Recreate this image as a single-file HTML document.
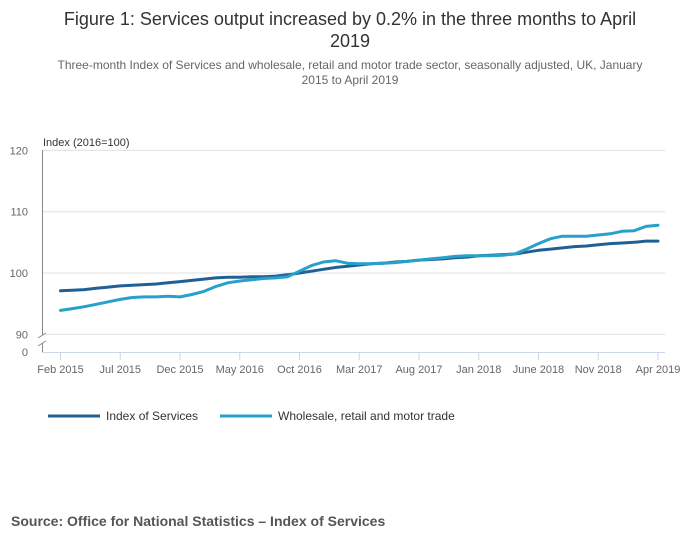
<!DOCTYPE html>
<html><head><meta charset="utf-8"><style>
body{margin:0;background:#fff;font-family:"Liberation Sans",sans-serif;}
#wrap{position:relative;width:700px;height:549px;overflow:hidden;}
.t{position:absolute;left:0;width:700px;text-align:center;}
</style></head><body>
<div id="wrap">
<div class="t" style="top:8px;font-size:18px;color:#333;line-height:22px;">Figure 1: Services output increased by 0.2% in the three months to April<br>2019</div>
<div class="t" style="top:58px;font-size:12px;color:#666;line-height:15px;">Three-month Index of Services and wholesale, retail and motor trade sector, seasonally adjusted, UK, January<br>2015 to April 2019</div>
<svg id="chart" width="700" height="549" style="position:absolute;left:0;top:0"></svg>
<div style="position:absolute;left:11px;top:513px;font-size:14px;font-weight:bold;color:#555;">Source: Office for National Statistics – Index of Services</div>
</div>
<script>
const months = ["Feb 2015","Jul 2015","Dec 2015","May 2016","Oct 2016","Mar 2017","Aug 2017","Jan 2018","June 2018","Nov 2018","Apr 2019"];
const services = [97.1,97.2,97.3,97.5,97.7,97.9,98.0,98.1,98.2,98.4,98.6,98.8,99.0,99.2,99.3,99.3,99.4,99.4,99.5,99.7,100.0,100.3,100.6,100.9,101.1,101.3,101.5,101.6,101.8,101.9,102.1,102.2,102.3,102.5,102.6,102.8,102.9,103.0,103.1,103.4,103.7,103.9,104.1,104.3,104.4,104.6,104.8,104.9,105.0,105.2,105.2];
const wholesale = [93.9,94.2,94.5,94.9,95.3,95.7,96.0,96.1,96.1,96.2,96.1,96.5,97.0,97.8,98.4,98.7,98.9,99.1,99.2,99.4,100.3,101.2,101.8,102.0,101.6,101.5,101.5,101.6,101.7,101.9,102.1,102.3,102.5,102.7,102.8,102.8,102.8,102.9,103.1,103.9,104.8,105.6,106.0,106.0,106.0,106.2,106.4,106.8,106.9,107.6,107.8];
const yTicks = [90,100,110,120];
const NS="http://www.w3.org/2000/svg";
const svg=document.getElementById('chart');
const x0=60.5,x1=658,n=services.length;
function xs(i){return x0+(x1-x0)*i/(n-1);}
function ys(v){return 273-(v-100)*6.13;}
function mk(tag,attrs){const e=document.createElementNS(NS,tag);for(const k in attrs)e.setAttribute(k,attrs[k]);svg.appendChild(e);return e;}
yTicks.forEach(v=>{
  const g=mk('line',{x1:42,x2:665,y1:ys(v),y2:ys(v),stroke:'#e0e0e0','stroke-width':1});
  
  
  const t=mk('text',{x:28,y:ys(v)+4,'text-anchor':'end','font-size':11,fill:'#666','font-family':'Liberation Sans, sans-serif'});
  t.textContent=v;
  
  
});
const z=mk('text',{x:28,y:356,'text-anchor':'end','font-size':11,fill:'#666','font-family':'Liberation Sans, sans-serif'});z.textContent='0';


let ya=mk('path',{d:'M42.5 150 V335 M42.5 343 V352',stroke:'#888','stroke-width':1,fill:'none'});


let br=mk('path',{d:'M38 338 L46 333 M38 346 L46 341',stroke:'#888','stroke-width':1,fill:'none'});


let xa=mk('line',{x1:42,x2:665,y1:352.5,y2:352.5,stroke:'#ccd6eb','stroke-width':1});


months.forEach((m,k)=>{
  const x=xs(k*5);
  const tk=mk('line',{x1:x,x2:x,y1:352,y2:360,stroke:'#ccd6eb','stroke-width':1});
  
  
  const t=mk('text',{x:x,y:373,'text-anchor':'middle','font-size':11,fill:'#666','font-family':'Liberation Sans, sans-serif'});
  t.textContent=m;
  
  
});
const yt=mk('text',{x:43,y:146,'font-size':11,fill:'#333','font-family':'Liberation Sans, sans-serif'});yt.textContent='Index (2016=100)';


function line(arr,col,name){
  const d=arr.map((v,i)=>(i?'L':'M')+xs(i).toFixed(1)+' '+ys(v).toFixed(1)).join(' ');
  const p=mk('path',{d:d,stroke:col,'stroke-width':3,fill:'none','stroke-linejoin':'round','stroke-linecap':'round'});
  
  
}
line(services,'#206095','services-line');
line(wholesale,'#27a0cc','wholesale-line');
function leg(x,col,label,name){
  const l=mk('line',{x1:x,x2:x+52,y1:416,y2:416,stroke:col,'stroke-width':3});
  
  
  const t=mk('text',{x:x+58,y:420,'font-size':12,fill:'#333','font-family':'Liberation Sans, sans-serif'});
  t.textContent=label;
  
  
}
leg(48,'#206095','Index of Services','legend-services');
leg(220,'#27a0cc','Wholesale, retail and motor trade','legend-wholesale');
</script>
</body></html>
